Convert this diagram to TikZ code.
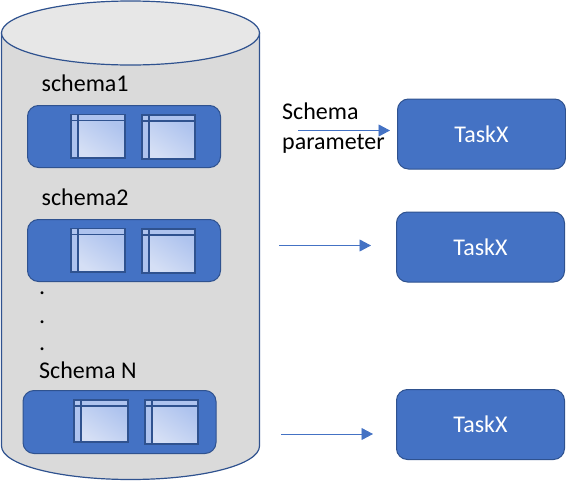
\documentclass[tikz,border=0pt]{standalone}
\usepackage{fontspec}
\setmainfont{Carlito}
\usetikzlibrary{arrows.meta,shapes.misc}
\definecolor{bluefill}{HTML}{4472C4}
\definecolor{blueedge}{HTML}{2F528F}
\definecolor{cylside}{HTML}{DADADA}
\definecolor{cyltop}{HTML}{E7E7E7}
\definecolor{tablelight}{HTML}{AEC3EE}
\definecolor{tablepale}{HTML}{D5DFF5}
\tikzset{
  groupbox/.style={draw=blueedge,line width=1pt,fill=bluefill,rounded corners=11pt,anchor=north west,inner sep=0pt},
  taskbox/.style={groupbox,minimum width=168pt,minimum height=70pt,text=white,font=\fontsize{24}{24}\selectfont},
  lbl/.style={anchor=base west,inner sep=0pt,font=\fontsize{24}{28}\selectfont,text=black},
  conn/.style={draw=bluefill,line width=0.9pt,-{Triangle[length=11.5pt,width=12pt]}},
  tableframe/.style={draw=blueedge,line width=1.4pt},
}
\newcommand{\tablepic}[4]{% x1 y1 x2 y2
  \fill[tablelight] (#1,#2) rectangle (#3,#4);
  \shade[top color=tablelight,bottom color=tablepale,shading angle=-35] (#1+7,#2+6) rectangle (#3,#4);
  \draw[tableframe] (#1,#2) rectangle (#3,#4);
  \draw[tableframe] (#1,#2+6) -- (#3,#2+6);
  \draw[tableframe] (#1+7,#2) -- (#1+7,#4);
}
\begin{document}
\begin{tikzpicture}[x=1pt,y=-1pt]
\useasboundingbox (0,0) rectangle (566,482);
% cylinder
\path[fill=cylside,draw=blueedge,line width=1.2pt] (1.5,33) -- (1.5,446)
  .. controls (1.5,465) and (60,479.5) .. (130.5,479.5)
  .. controls (201,479.5) and (259.5,465) .. (259.5,446) -- (259.5,33) -- cycle;
\path[fill=cyltop,draw=blueedge,line width=1.2pt] (130.5,33) ellipse [x radius=129,y radius=32];
% schema 1
\node[lbl] (s1) at (41.5,91) {schema1};
\node[groupbox,minimum width=193pt,minimum height=62pt] (g1) at (27,105) {};
\tablepic{71}{114.5}{125}{158}
\tablepic{142}{115}{195}{159}
% schema 2
\node[lbl] (s2) at (41.5,205) {schema2};
\node[groupbox,minimum width=193pt,minimum height=62pt] (g2) at (27,219) {};
\tablepic{71}{228.5}{125}{272}
\tablepic{142}{229}{195}{273}
% dots
\node[lbl] (d1) at (39,294) {.};
\node[lbl] (d2) at (39,323) {.};
\node[lbl] (d3) at (39,350) {.};
% schema N
\node[lbl] (sn) at (39,378) {Schema N};
\node[groupbox,minimum width=193pt,minimum height=63pt] (gn) at (22.5,390) {};
\tablepic{74}{400}{128}{442}
\tablepic{145}{400}{198}{444}
% tasks
\node[taskbox] (t1) at (397,98.5) {TaskX};
\node[taskbox] (t2) at (396,211.5) {TaskX};
\node[taskbox] (t3) at (396,389) {TaskX};
% label
\node[lbl] (p1) at (282,119) {Schema};
\node[lbl] (p2) at (282,149) {parameter};
% connectors
\coordinate (a1) at (298,130.5);
\coordinate (b1) at (390,130.5);
\coordinate (a2) at (279,245.5);
\coordinate (b2) at (371,245.5);
\coordinate (a3) at (281,434);
\coordinate (b3) at (373,434);
\draw[conn] (a1) -- (b1);
\draw[conn] (a2) -- (b2);
\draw[conn] (a3) -- (b3);
\end{tikzpicture}
\end{document}
